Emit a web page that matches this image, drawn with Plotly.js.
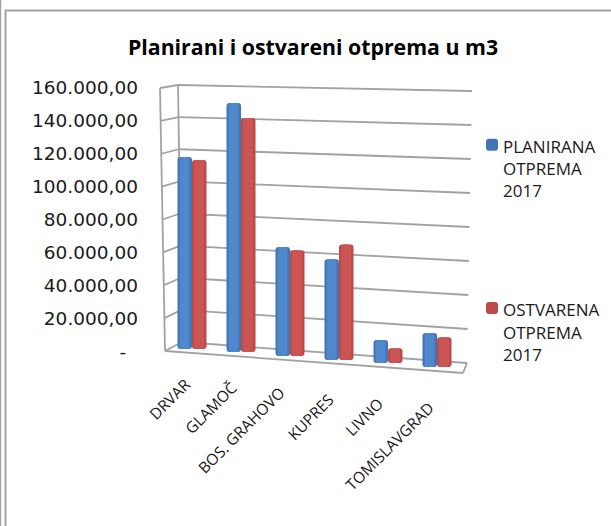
<!DOCTYPE html>
<html><head><meta charset="utf-8">
<script src="https://cdn.plot.ly/plotly-3.0.0.min.js"></script>
<style>html,body{margin:0;padding:0;background:#fff}</style>
</head><body><div id="chart" style="width:611px;height:526px"></div>
<script>
var categories = ["DRVAR","GLAMOČ","BOS. GRAHOVO","KUPRES","LIVNO","TOMISLAVGRAD"];
var planirana = [116400,150900,66000,61000,14000,20600];
var ostvarena = [114500,141800,64000,70000,9000,18000];
var floorBase = [1800,0,-2400,-4800,-6700,-9100];
var yTicks = [0,20000,40000,60000,80000,100000,120000,140000,160000];
var yLabels = ["-\u00a0\u00a0","20.000,00","40.000,00","60.000,00","80.000,00","100.000,00","120.000,00","140.000,00","160.000,00"];
var seriesNames = ["PLANIRANA<br>OTPREMA<br>2017","OSTVARENA<br>OTPREMA<br>2017"];
var titleText = "Planirani i ostvareni otprema u m3";

var W=611,H=526,FONT='"Open Sans", sans-serif',GRID='#a2a2a2';
var idx = categories.map(function(_,i){return i;});
var pxPerCat=49, x0=192;
var Y0=352, K=1.65/1000;
var px=function(x){return x/W;}, py=function(y){return 1-y/H;};

function seg(x1,y1,x2,y2,w){return {type:'line',xref:'paper',yref:'paper',layer:'below',
  x0:px(x1),y0:py(y1),x1:px(x2),y1:py(y2),line:{color:GRID,width:w||1.8}};}
var shapes=[];
yTicks.forEach(function(v){
  var t=v/160000;
  var fx=165-5*t, fy=351-263*t, bx=182-4*t, by=342-257*t, rx=467+5*t, ry=363-272*t;
  shapes.push(seg(fx,fy,bx,by));
  shapes.push(seg(bx,by,rx,ry));
});
shapes.push(seg(160,88,165,351));
shapes.push(seg(178,85,182,342));
shapes.push(seg(165,351,463,373));
shapes.push(seg(467,363,463,373));
// chart frame
shapes.push(seg(0.5,0,0.5,526,1.5));
shapes.push(seg(5.5,10,5.5,526,2));
shapes.push(seg(5,10.5,611,10.5,2));

function barTrace(vals,name,color,offsetPx,widthPx,legend,group){
  return {type:'bar',x:idx,y:vals,base:floorBase,name:name,showlegend:legend,legendgroup:group,
    width:widthPx/pxPerCat,offset:offsetPx/pxPerCat,marker:{color:color,line:{width:0}},hoverinfo:'skip'};
}
var traces=[
  barTrace(planirana,seriesNames[0],'#4375b6',-14.5,14.5,true,'a'),
  barTrace(ostvarena,seriesNames[1],'#bb4a48',0,14.5,true,'b'),
  barTrace(planirana,'p2','#4f88cb',-12.5,10,false,'a'),
  barTrace(ostvarena,'o2','#cb5553',2,10,false,'b')
];

var annotations=categories.map(function(c,i){
  var endX=[198,244,292,341,390,441][i], endY=[371,374,379,386,390,394][i];
  return {text:c,xref:'paper',yref:'paper',x:px(endX),y:py(endY),xanchor:'right',yanchor:'top',
    showarrow:false,textangle:-45,font:{family:FONT,size:15.5,color:'#1a1a1a'}};
});

var layout={
  width:W,height:H,margin:{l:0,r:0,t:0,b:0},paper_bgcolor:'#fff',plot_bgcolor:'rgba(0,0,0,0)',
  barmode:'overlay',barcornerradius:3,
  title:{text:'<b>'+titleText+'</b>',x:313/W,y:1-48/H,xanchor:'center',yanchor:'middle',
    font:{family:FONT,size:21.3,color:'#000'}},
  xaxis:{range:[-x0/pxPerCat,(W-x0)/pxPerCat],showgrid:false,zeroline:false,showline:false,showticklabels:false,ticks:'',fixedrange:true},
  yaxis:{range:[(Y0-H)/K,Y0/K],anchor:'free',position:140/W,tickmode:'array',tickvals:yTicks,ticktext:yLabels,
    showgrid:false,zeroline:false,showline:false,ticks:'',ticklabelstandoff:2,
    tickfont:{family:'"DejaVu Sans", sans-serif',size:18.5,color:'#1a1a1a'},fixedrange:true},
  legend:{x:463/W,y:py(129),xanchor:'left',yanchor:'top',tracegroupgap:94,traceorder:'grouped',
    font:{family:FONT,size:17,color:'#1a1a1a'},bgcolor:'rgba(0,0,0,0)'},
  shapes:shapes,annotations:annotations,showlegend:true
};
Plotly.newPlot('chart',traces,layout,{displayModeBar:false,staticPlot:true}).then(function(gd){
  // the reference puts each swatch beside the first line of its wrapped label
  gd.querySelectorAll('.legend .legendpoints').forEach(function(g){
    g.setAttribute('transform','translate(9,-24)');
  });
});
</script></body></html>
